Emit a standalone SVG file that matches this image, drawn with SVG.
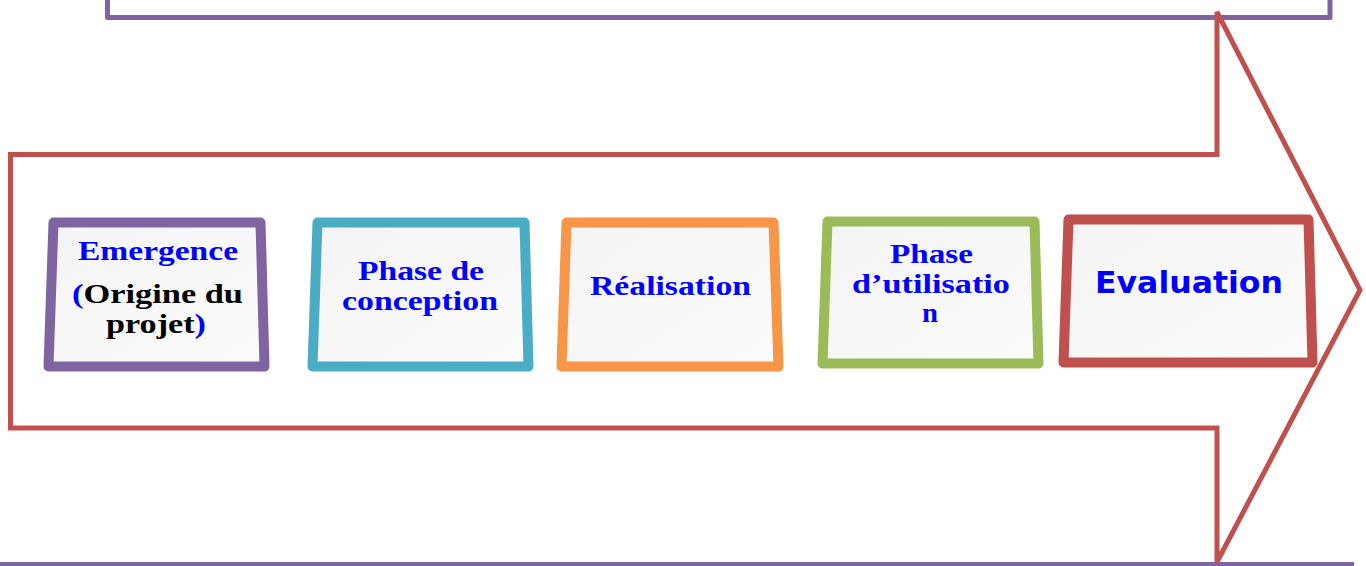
<svg xmlns="http://www.w3.org/2000/svg" width="1366" height="566" viewBox="0 0 1366 566">
<defs>
<linearGradient id="fillg" x1="0" y1="0" x2="1" y2="1">
<stop offset="0" stop-color="#f4f4f4"/>
<stop offset="1" stop-color="#fbfbfb"/>
</linearGradient>
<style>
.frame{fill:none;stroke:#8064A2;stroke-width:5;stroke-linejoin:round}
.arrow{fill:#ffffff;stroke:#C0504D;stroke-width:5;stroke-linejoin:miter}
.box{fill:url(#fillg);stroke-width:10;stroke-linejoin:round}
.t{font-family:"Liberation Serif","Times New Roman",serif;font-weight:bold;font-size:27px;fill:#0000FF}
.k{fill:#000000}
.s{font-family:"DejaVu Sans","Verdana",sans-serif;font-weight:bold;font-size:31px;fill:#0000FF}
</style>
</defs>
<rect width="1366" height="566" fill="#ffffff"/>
<g id="frames">
<path class="frame" d="M107.5,-10 L107.5,17.5 L1330,17.5 L1330,-10"/>
<path class="frame" d="M-5,564.5 L1354,564.5"/>
</g>
<g id="arrow">
<polygon class="arrow" points="10.5,154.5 1217,154.5 1217,12 1360,290 1217,562 1217,428 10.5,428"/>
</g>
<g id="node-emergence">
<polygon class="box" stroke="#8064A2" points="53.5,222.5 260.5,222.5 264.5,366.5 48.5,366.5"/>
<text class="t" x="78" y="260" textLength="160" lengthAdjust="spacingAndGlyphs">Emergence</text>
<text class="t" x="72" y="303" textLength="171" lengthAdjust="spacingAndGlyphs">(<tspan class="k">Origine du</tspan></text>
<text class="t" x="106" y="333" textLength="100" lengthAdjust="spacingAndGlyphs"><tspan class="k">projet</tspan>)</text>
</g>
<g id="node-conception">
<polygon class="box" stroke="#4BACC6" points="317.5,222.5 524.5,222.5 528.5,366.5 312.5,366.5"/>
<text class="t" x="358" y="280" textLength="126" lengthAdjust="spacingAndGlyphs">Phase de</text>
<text class="t" x="342" y="310" textLength="156" lengthAdjust="spacingAndGlyphs">conception</text>
</g>
<g id="node-realisation">
<polygon class="box" stroke="#F79646" points="566.5,222.5 773.5,222.5 778.5,366.5 561.5,366.5"/>
<text class="t" x="590" y="295" textLength="161" lengthAdjust="spacingAndGlyphs">Réalisation</text>
</g>
<g id="node-utilisation">
<polygon class="box" stroke="#9BBB59" points="827.5,221.5 1034.5,221.5 1038.5,363.5 822.5,363.5"/>
<text class="t" x="890" y="263" textLength="83" lengthAdjust="spacingAndGlyphs">Phase</text>
<text class="t" x="852" y="293" textLength="158" lengthAdjust="spacingAndGlyphs">d’utilisatio</text>
<text class="t" x="922" y="322" textLength="16" lengthAdjust="spacingAndGlyphs">n</text>
</g>
<g id="node-evaluation">
<polygon class="box" stroke="#C0504D" points="1068.5,219.5 1308.5,219.5 1312.5,362.5 1063.5,362.5"/>
<text class="s" x="1095" y="293" textLength="188" lengthAdjust="spacingAndGlyphs">Evaluation</text>
</g>
</svg>
